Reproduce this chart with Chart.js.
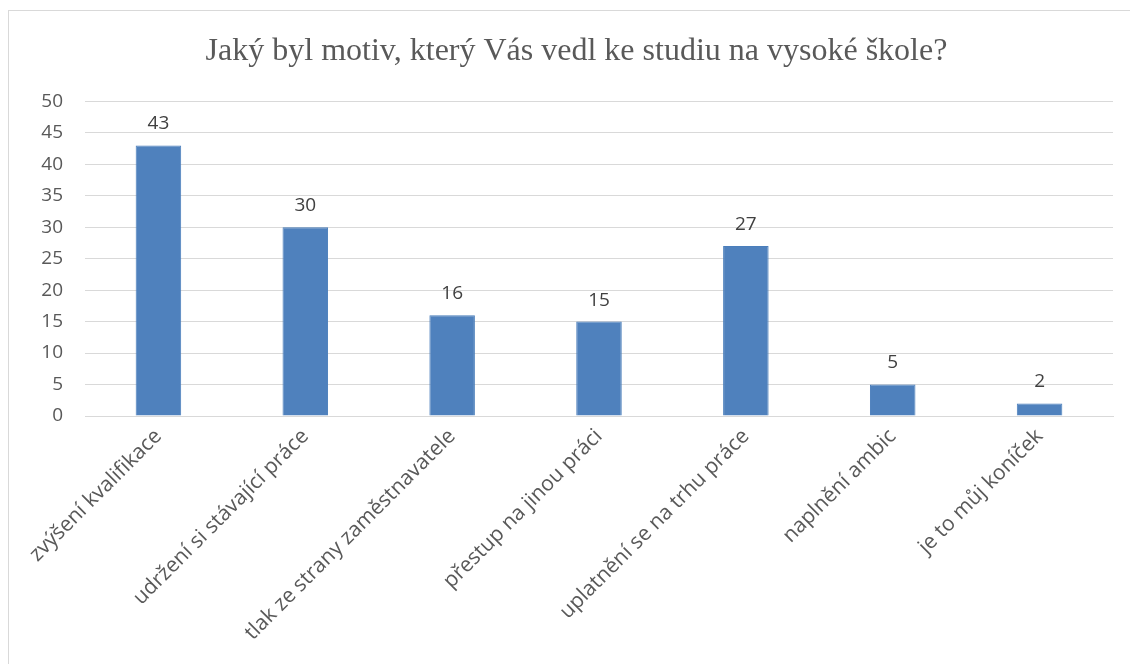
<!DOCTYPE html>
<html>
<head>
<meta charset="utf-8">
<script src="https://cdn.jsdelivr.net/npm/chart.js@4/dist/chart.umd.min.js"></script>
<style>
  body { margin: 0; background: #fff; }
  #frame {
    position: absolute; left: 8px; top: 10px;
    width: 1130px; height: 660px;
    border: 1px solid #d9d9d9; box-sizing: border-box;
  }
</style>
</head>
<body>
<div id="frame"><canvas id="motivChart"></canvas></div>
<script>
// Data
const categories = [
  'zvýšení kvalifikace',
  'udržení si stávající práce',
  'tlak ze strany zaměstnavatele',
  'přestup na jinou práci',
  'uplatnění se na trhu práce',
  'naplnění ambic',
  'je to můj koníček'
];
const counts = [43, 30, 16, 15, 27, 5, 2];
const yTicks = [0, 5, 10, 15, 20, 25, 30, 35, 40, 45, 50];
const chartTitle = 'Jaký byl motiv, který Vás vedl ke studiu na vysoké škole?';

const textColor = '#595959';
const fontFamily = '"Open Sans", "Noto Sans", sans-serif';

// Draw value labels above bars
const valueLabels = {
  id: 'valueLabels',
  afterDatasetsDraw(chart) {
    const { ctx } = chart;
    const meta = chart.getDatasetMeta(0);
    ctx.save();
    ctx.font = '19px ' + fontFamily;
    ctx.fillStyle = '#404040';
    ctx.textAlign = 'center';
    ctx.textBaseline = 'bottom';
    meta.data.forEach((bar, i) => {
      ctx.fillText(String(counts[i]), bar.x, bar.y - 12);
    });
    ctx.restore();
  }
};

const ctx = document.getElementById('motivChart').getContext('2d');
new Chart(ctx, {
  type: 'bar',
  data: {
    labels: categories,
    datasets: [{
      data: counts,
      backgroundColor: '#4f81bd',
      borderColor: '#4a7ebb',
      borderWidth: 1,
      categoryPercentage: 1,
      barPercentage: 0.31
    }]
  },
  options: {
    responsive: true,
    maintainAspectRatio: false,
    animation: false,
    layout: { padding: { left: 31, right: 24, top: 0, bottom: 0 } },
    plugins: {
      legend: { display: false },
      tooltip: { enabled: false },
      title: {
        display: true,
        text: chartTitle,
        color: textColor,
        font: { family: '"Liberation Serif", "Times New Roman", serif', size: 32, weight: 'normal' },
        padding: { top: 21, bottom: 31 }
      }
    },
    scales: {
      x: {
        grid: { display: false, drawTicks: false },
        border: { color: '#d9d9d9', width: 1 },
        ticks: {
          color: textColor,
          font: { family: fontFamily, size: 21 },
          autoSkip: false,
          minRotation: 45,
          maxRotation: 45,
          padding: 8
        },
        afterFit(scale) { scale.height = 253; }
      },
      y: {
        min: 0,
        max: 50,
        afterBuildTicks(scale) { scale.ticks = yTicks.map(v => ({ value: v })); },
        grid: { color: '#d9d9d9', lineWidth: 1, drawTicks: false },
        border: { display: false },
        ticks: {
          color: textColor,
          font: { family: fontFamily, size: 19 },
          padding: 22
        },
        afterFit(scale) { scale.width = 45; }
      }
    }
  },
  plugins: [valueLabels]
});
</script>
</body>
</html>
